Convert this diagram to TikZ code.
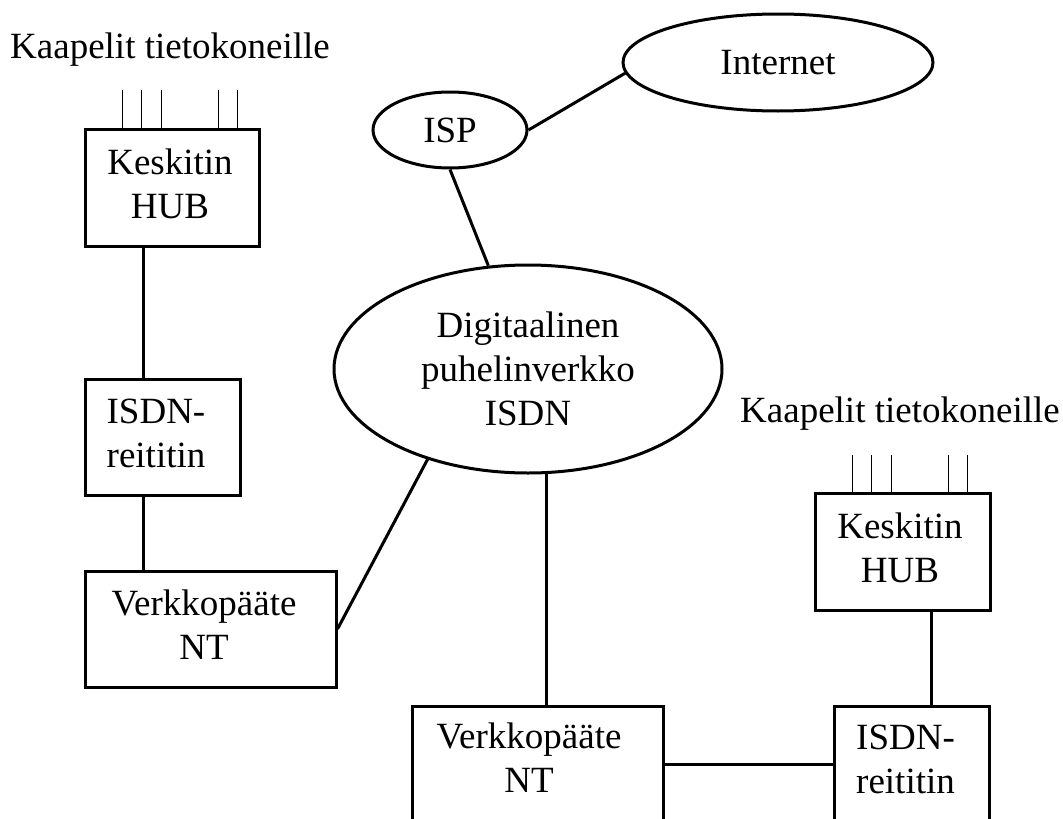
\documentclass[tikz,border=0pt]{standalone}
\usepackage{fontspec}
\setmainfont{Liberation Serif}
\usetikzlibrary{shapes.geometric}
\begin{document}
\begin{tikzpicture}[x=1pt,y=-1pt,
  txt/.style={font=\fontsize{37}{44}\selectfont, align=center, inner sep=0pt},
  box/.style={draw, line width=3pt, rectangle, inner sep=0pt},
  oval/.style={txt, draw, line width=3pt, ellipse},
  link/.style={line width=3pt},
  cable/.style={line width=1.3pt}]
\path[use as bounding box, clip] (0,0) rectangle (1063,819);
% titles
\node[txt, anchor=base west] (capL) at (10,58) {Kaapelit tietokoneille};
\node[txt, anchor=base west] (capR) at (740,422) {Kaapelit tietokoneille};
% left side boxes
\node[box, minimum width=174pt, minimum height=117pt,
  label={[txt, xshift=-2pt, yshift=4pt]center:{Keskitin\\HUB}}] (hubL) at (172,187.5) {};
\node[box, minimum width=155pt, minimum height=116pt,
  label={[txt, xshift=-6.5pt, yshift=4pt]center:{ISDN-\\reititin}}] (isdnL) at (162.5,437) {};
\node[box, minimum width=251pt, minimum height=116pt,
  label={[txt, xshift=-6.5pt, yshift=4.5pt]center:{Verkkopääte\\NT}}] (ntL) at (210.5,629) {};
% right side boxes
\node[box, minimum width=175pt, minimum height=117pt,
  label={[txt, xshift=-2.5pt, yshift=4pt]center:{Keskitin\\HUB}}] (hubR) at (902.5,551.5) {};
\node[box, minimum width=155pt, minimum height=116pt,
  label={[txt, xshift=-6pt, yshift=5pt]center:{ISDN-\\reititin}}] (isdnR) at (911.5,764) {};
\node[box, minimum width=251pt, minimum height=116pt,
  label={[txt, xshift=-8.5pt, yshift=6pt]center:{Verkkopääte\\NT}}] (ntR) at (537.5,764) {};
% ellipses
\node[oval, minimum width=154pt, minimum height=76pt] (isp) at (450,130) {ISP};
\node[oval, minimum width=310pt, minimum height=97pt] (inet) at (778,62.5) {Internet};
\node[oval, minimum width=388pt, minimum height=208pt] (big) at (528,369) {Digitaalinen\\puhelinverkko\\ISDN};
% guide coordinates for vertical links
\coordinate (lx) at (143,0);
\coordinate (rx) at (931,0);
% cables
\foreach \dx in {39,58,78,135,154} {
  \draw[cable] ([xshift=\dx pt]hubL.north west) -- ++(0,-38);
  \draw[cable] ([xshift=\dx pt]hubR.north west) -- ++(0,-37);
}
% links
\draw[link] (isp.east) -- (inet.184);
\draw[link] (isp.south) -- (big.111);
\draw[link] (hubL.south -| lx) -- (isdnL.north -| lx);
\draw[link] (isdnL.south -| lx) -- (ntL.north -| lx);
\draw[link] (ntL.east) -- (big.222);
\draw[link] (big.280) -- (big.280 |- ntR.north);
\draw[link] (ntR.east) -- (isdnR.west);
\draw[link] (hubR.south -| rx) -- (isdnR.north -| rx);
\end{tikzpicture}
\end{document}
